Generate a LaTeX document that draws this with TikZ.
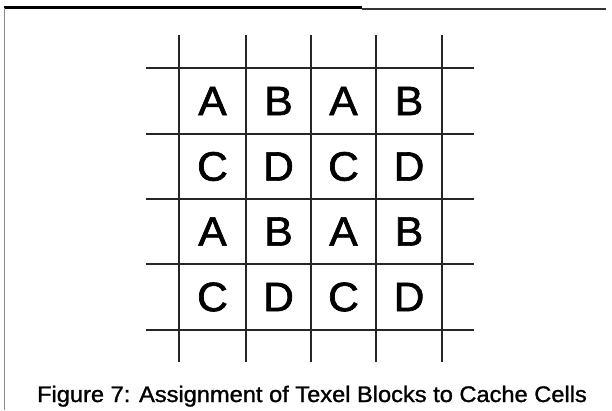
\documentclass[tikz,border=0pt]{standalone}
\usepackage{fontspec}
\setmainfont{Liberation Sans}
\newfontfamily\heavysans[FakeBold=1.6]{Liberation Sans}
\newfontfamily\capsans[FakeBold=1.2]{Liberation Sans}
\begin{document}
\begin{tikzpicture}[x=1pt,y=-1pt,
  gridline/.style={line width=1.1pt,black!85},
  cellletter/.style={font=\heavysans\fontsize{41}{41}\selectfont,inner sep=0pt,anchor=center},
  captext/.style={font=\capsans\fontsize{22.5}{22.5}\selectfont,inner sep=0pt,anchor=base}]
\useasboundingbox (0,0) rectangle (612,410);
\fill[white] (0,0) rectangle (612,410);
% frame
\draw[line width=2.6pt,black] (4,7.5) -- (362,7.5);
\draw[line width=2pt,black!80] (362,8.7) -- (606,8.7);
\draw[line width=1pt,black!45] (4.6,8) -- (4.6,410);
% grid
\foreach \x in {179,246,311,376,442} \draw[gridline] (\x,35) -- (\x,362);
\foreach \y in {68,134,199,264,330} \draw[gridline] (146,\y) -- (474,\y);
% letters
\foreach \r/\yc in {0/101,1/166.5,2/231.5,3/297}{
  \foreach \c/\xc in {0/212.5,1/278.5,2/343.5,3/409}{
    \pgfmathtruncatemacro{\rr}{mod(\r,2)}
    \pgfmathtruncatemacro{\cc}{mod(\c,2)}
    \ifnum\rr=0
      \ifnum\cc=0 \def\lt{A}\else\def\lt{B}\fi
    \else
      \ifnum\cc=0 \def\lt{C}\else\def\lt{D}\fi
    \fi
    \node[cellletter] (cell\r\c) at (\xc,\yc) {\scalebox{1.04}[1]{\lt}};
  }
}
\node[captext] (caption) at (312,402) {\scalebox{1.05}[1]{Figure 7: Assignment of Texel Blocks to Cache Cells}};
\end{tikzpicture}
\end{document}
